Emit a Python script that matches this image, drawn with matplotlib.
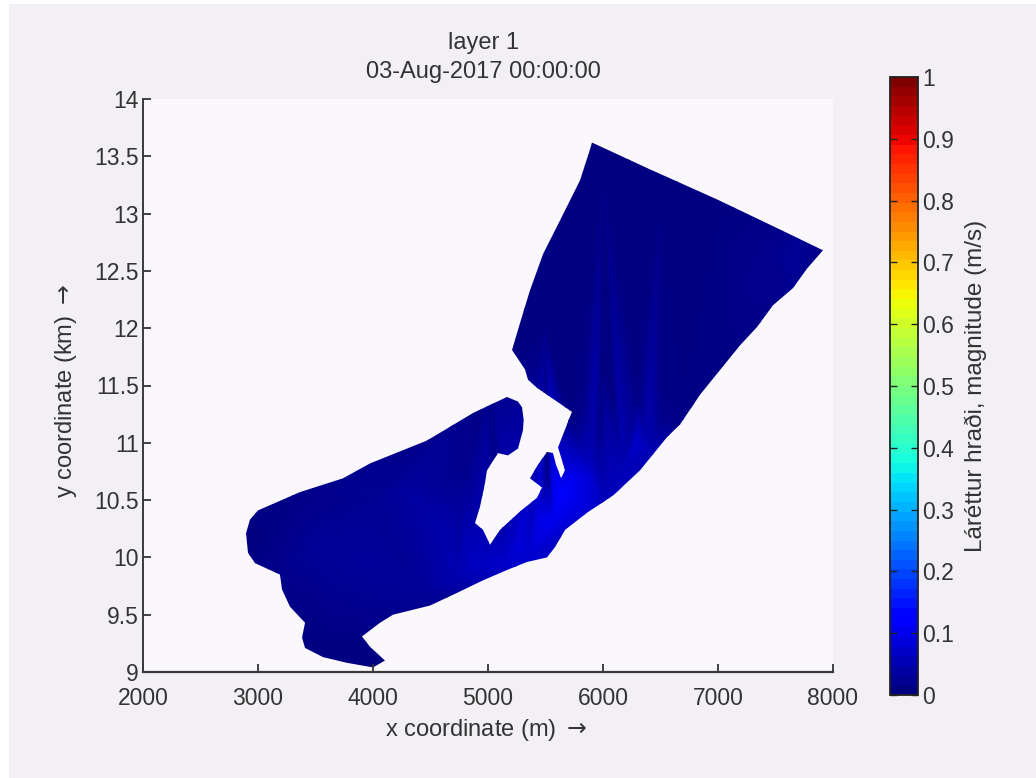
import numpy as np
import matplotlib
matplotlib.use('Agg')
import matplotlib.pyplot as plt
from matplotlib.patches import Polygon, Rectangle

# outline of the model domain
outline_x = [5904, 6400, 7000, 7500, 7913, 7774, 7652, 7478, 7339, 7191, 6844, 6670, 6557, 6322,
             6087, 5861, 5670, 5583, 5513, 5339, 5165, 4957, 4730, 4496, 4174, 4061, 3904, 3974,
             4104, 4000, 3774, 3565, 3409, 3383, 3409, 3278, 3209, 3191, 3017, 2974, 2913, 2896,
             2930, 3000, 3365, 3739, 3974, 4470, 4870, 5165, 5260, 5296, 5310, 5304, 5261, 5174,
             5087, 4991, 4974, 4930, 4887, 4957, 5017, 5104, 5278, 5426, 5470, 5365, 5435, 5513,
             5565, 5591, 5635, 5670, 5609, 5730, 5426, 5348, 5322, 5209, 5280, 5365, 5480, 5626,
             5800, 5887]
outline_y = [13.62, 13.39, 13.12, 12.88, 12.68, 12.52, 12.35, 12.20, 12.01, 11.85, 11.42, 11.16,
             11.05, 10.76, 10.54, 10.39, 10.24, 10.09, 10.00, 9.96, 9.89, 9.80, 9.69, 9.58, 9.50,
             9.43, 9.31, 9.22, 9.10, 9.04, 9.08, 9.13, 9.21, 9.30, 9.43, 9.57, 9.72, 9.85, 9.93,
             9.95, 10.04, 10.21, 10.33, 10.41, 10.57, 10.69, 10.82, 11.02, 11.26, 11.40, 11.36,
             11.31, 11.20, 11.11, 10.95, 10.89, 10.91, 10.76, 10.65, 10.44, 10.30, 10.24, 10.11,
             10.24, 10.40, 10.52, 10.61, 10.69, 10.81, 10.92, 10.91, 10.81, 10.69, 10.76, 10.96,
             11.27, 11.48, 11.55, 11.64, 11.81, 12.05, 12.33, 12.65, 12.94, 13.29, 13.56]

# speed samples (m/s), estimated from the colours
speed_x = [2000, 8000, 2000, 8000, 5000, 6000, 7000, 6500, 7500, 5500, 6000, 6500, 7000, 5700,
           6000, 6500, 7000, 6000, 6500, 7650, 7300, 7000, 5826, 5974, 6500, 6700,
           3043, 3339, 3478, 3626, 3913, 4296, 4609, 4783, 4930, 4000, 4400, 4800, 5100,
           5513, 5520, 5250, 5278, 5450, 5565, 5626, 5739, 5650, 5887, 5974, 6174, 6296, 6400, 6100,
           5000, 5150, 4750, 6000, 5350, 5900, 5800,
           6100, 6300, 6700, 3200, 3600]
speed_y = [9.0, 9.0, 14.0, 14.0, 11.6, 13.4, 12.9, 12.0, 12.7, 12.0, 11.6, 11.5, 11.8, 11.2,
           12.4, 12.8, 12.3, 12.9, 13.2, 12.55, 12.4, 12.3, 11.29, 11.05, 11.2, 11.15,
           10.15, 10.44, 10.09, 9.28, 10.0, 10.59, 10.21, 10.21, 9.95, 10.5, 9.7, 10.7, 10.6,
           10.76, 10.9, 10.15, 10.13, 10.35, 10.33, 10.61, 10.7, 10.55, 10.7, 10.56, 10.76, 11.0, 10.95, 10.95,
           10.1, 9.95, 9.85, 10.4, 10.0, 10.85, 11.0,
           11.3, 11.4, 11.4, 9.9, 9.6]
speed_v = [0.003, 0.003, 0.003, 0.003, 0.004, 0.003, 0.005, 0.004, 0.014, 0.003, 0.004, 0.005, 0.006, 0.006,
           0.003, 0.004, 0.005, 0.003, 0.003, 0.022, 0.012, 0.005, 0.008, 0.014, 0.012, 0.008,
           0.005, 0.008, 0.022, 0.004, 0.025, 0.03, 0.04, 0.045, 0.06, 0.016, 0.022, 0.012, 0.01,
           0.005, 0.005, 0.07, 0.08, 0.09, 0.10, 0.12, 0.10, 0.11, 0.075, 0.06, 0.05, 0.07, 0.05, 0.04,
           0.05, 0.07, 0.045, 0.055, 0.07, 0.05, 0.03,
           0.006, 0.006, 0.005, 0.012, 0.014]

bar_ticks = [0, 0.1, 0.2, 0.3, 0.4, 0.5, 0.6, 0.7, 0.8, 0.9, 1]
bar_labels = ['0', '0.1', '0.2', '0.3', '0.4', '0.5', '0.6', '0.7', '0.8', '0.9', '1']
x_ticks = [2000, 3000, 4000, 5000, 6000, 7000, 8000]
y_ticks = [9, 9.5, 10, 10.5, 11, 11.5, 12, 12.5, 13, 13.5, 14]
y_labels = ['9', '9.5', '10', '10.5', '11', '11.5', '12', '12.5', '13', '13.5', '14']

W, H = 1036, 778
plt.rcParams['font.family'] = ['Liberation Sans', 'DejaVu Sans']
plt.rcParams['mathtext.fontset'] = 'dejavusans'
plt.rcParams['axes.edgecolor'] = '#3a3a3a'
plt.rcParams['text.color'] = '#333333'
plt.rcParams['xtick.color'] = '#333333'
plt.rcParams['ytick.color'] = '#333333'
plt.rcParams['axes.labelcolor'] = '#333333'


def box(left, top, right, bottom):
    return [left / W, 1 - bottom / H, (right - left) / W, (bottom - top) / H]


fig = plt.figure(figsize=(W / 100, H / 100), dpi=100, facecolor='white')
fig.patches.append(Rectangle((9 / W, 0), 1 - 9 / W, 1 - 4 / H, transform=fig.transFigure,
                             facecolor='#f2f0f4', edgecolor='none', zorder=-10))

ax = fig.add_axes(box(143, 99, 833, 672), facecolor='#faf8fc')
cmap = plt.get_cmap('jet', 64)
mesh = ax.tripcolor(speed_x, speed_y, speed_v, shading='gouraud', cmap='jet', vmin=0, vmax=1)
domain = Polygon(np.column_stack([outline_x, outline_y]), closed=True, transform=ax.transData,
                 facecolor='none', edgecolor='none')
ax.add_patch(domain)
mesh.set_clip_path(domain)

ax.set_xlim(2000, 8000)
ax.set_ylim(9, 14)
ax.set_xticks(x_ticks)
ax.set_yticks(y_ticks)
ax.set_yticklabels(y_labels)
ax.tick_params(direction='in', length=6, width=1.3, labelsize=16.5, pad=3)
ax.tick_params(axis='x', pad=11)
ax.spines['top'].set_visible(False)
ax.spines['right'].set_visible(False)
ax.spines['left'].set_linewidth(1.4)
ax.spines['bottom'].set_linewidth(1.6)
ax.set_xlabel('x coordinate (m) $\\rightarrow$', fontsize=17, labelpad=5, x=0.497)
ax.set_ylabel('y coordinate (km) $\\rightarrow$', fontsize=17, labelpad=11, y=0.49)
ax.set_title('layer 1\n03-Aug-2017 00:00:00', fontsize=17, pad=15, linespacing=1.4, x=0.494)

cax = fig.add_axes(box(890, 77, 918, 695))
sm = plt.cm.ScalarMappable(norm=plt.Normalize(0, 1), cmap=cmap)
cb = fig.colorbar(sm, cax=cax)
cb.set_ticks(bar_ticks)
cb.set_ticklabels(bar_labels)
cb.outline.set_edgecolor('#222222')
cb.outline.set_linewidth(1.3)
cax.tick_params(direction='in', length=5, width=1, left=True, right=True, labelsize=16.5, pad=3,
                color='#222222')
cb.set_label('Láréttur hraði, magnitude (m/s)', fontsize=17.5, labelpad=8)

fig.savefig('out.png', dpi=100, facecolor=fig.get_facecolor())
